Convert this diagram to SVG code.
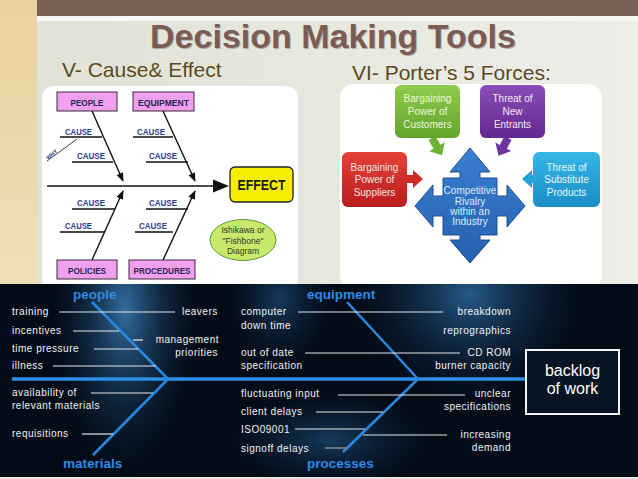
<svg xmlns="http://www.w3.org/2000/svg" width="638" height="479" viewBox="0 0 638 479">
<defs>
<linearGradient id="strip" x1="0" y1="0" x2="0" y2="1"><stop offset="0" stop-color="#e9d29e"/><stop offset="1" stop-color="#f3e6c8"/></linearGradient>
<linearGradient id="bg" x1="0" y1="0" x2="1" y2="0"><stop offset="0" stop-color="#dfe2d4"/><stop offset="1" stop-color="#eeeee9"/></linearGradient>
<linearGradient id="gGreen" x1="0" y1="0" x2="0" y2="1"><stop offset="0" stop-color="#90cc4c"/><stop offset="1" stop-color="#62a42c"/></linearGradient>
<linearGradient id="gPurple" x1="0" y1="0" x2="0" y2="1"><stop offset="0" stop-color="#8a4cb6"/><stop offset="1" stop-color="#64288e"/></linearGradient>
<linearGradient id="gRed" x1="0" y1="0" x2="0" y2="1"><stop offset="0" stop-color="#e6423a"/><stop offset="1" stop-color="#b81c1c"/></linearGradient>
<linearGradient id="gCyan" x1="0" y1="0" x2="0" y2="1"><stop offset="0" stop-color="#34b8e6"/><stop offset="1" stop-color="#1a8cc6"/></linearGradient>
<linearGradient id="gBlue" x1="0" y1="0" x2="0" y2="1"><stop offset="0" stop-color="#3a7fd0"/><stop offset="1" stop-color="#2660b0"/></linearGradient>
<radialGradient id="glow1"><stop offset="0" stop-color="#3b7fba" stop-opacity="0.85"/><stop offset="1" stop-color="#0a2540" stop-opacity="0"/></radialGradient>
<radialGradient id="glow2"><stop offset="0" stop-color="#2f6ea6" stop-opacity="0.8"/><stop offset="1" stop-color="#0a2540" stop-opacity="0"/></radialGradient>
<radialGradient id="glow3"><stop offset="0" stop-color="#1e4f7c" stop-opacity="0.7"/><stop offset="1" stop-color="#0a2540" stop-opacity="0"/></radialGradient>
<clipPath id="darkClip"><rect x="0" y="284" width="638" height="193"/></clipPath>
<marker id="ah" viewBox="0 0 10 8" refX="9" refY="4" markerWidth="9" markerHeight="8" markerUnits="userSpaceOnUse" orient="auto"><path d="M0,0 L10,4 L0,8 z" fill="#111"/></marker>
<style>
.pink{fill:#f0a0ee;stroke:#3a2a3a;stroke-width:1}
.pt{font-family:"Liberation Sans",Arial,sans-serif;font-weight:bold;font-size:9.5px;fill:#262650;text-anchor:middle}
.ct{font-family:"Liberation Sans",Arial,sans-serif;font-weight:bold;font-size:9.5px;fill:#2c3c8c}
.fl{stroke:#111;stroke-width:1.4}
.ptx{font-family:"Liberation Sans",Arial,sans-serif;font-size:10px;text-anchor:middle}
.wt{font-family:"Liberation Sans",Arial,sans-serif;font-size:10px;fill:#f2f2f2;letter-spacing:0.5px}
.we{font-family:"Liberation Sans",Arial,sans-serif;font-size:10px;fill:#f2f2f2;letter-spacing:0.5px;text-anchor:end}
.wl{stroke:#e6e6e6;stroke-width:1.2}
.bl{font-family:"Liberation Sans",Arial,sans-serif;font-weight:bold;font-size:13.5px;fill:#2f8ae4}
.bone{stroke:#2a88e0;stroke-width:2.5}
</style>
</defs>

<!-- background -->
<rect x="0" y="0" width="638" height="479" fill="url(#bg)"/>
<rect x="0" y="0" width="37" height="479" fill="url(#strip)"/>
<rect x="37" y="0" width="601" height="16" fill="#7a5f55"/>
<rect x="37" y="16" width="601" height="5" fill="#f7f7f3"/>

<!-- titles -->
<text x="334" y="49" font-family="Liberation Sans,Arial,sans-serif" font-weight="bold" font-size="34" fill="#4a3833" fill-opacity="0.35" text-anchor="middle">Decision Making Tools</text>
<text x="333" y="48" font-family="Liberation Sans,Arial,sans-serif" font-weight="bold" font-size="34" fill="#7b5c55" text-anchor="middle">Decision Making Tools</text>
<text x="62" y="77" font-family="Liberation Sans,Arial,sans-serif" font-size="21" fill="#5b4a22">V- Cause&amp; Effect</text>
<text x="352" y="80" font-family="Liberation Sans,Arial,sans-serif" font-size="21" fill="#5b4a22">VI- Porter’s 5 Forces:</text>

<!-- left: fishbone picture -->
<g id="fishbone-small">
<rect x="42" y="86" width="256" height="205" rx="12" fill="#ffffff"/>
<g id="people-box"><rect class="pink" x="57" y="92" width="60" height="19"/><text class="pt" x="87" y="105.5" textLength="33" lengthAdjust="spacingAndGlyphs">PEOPLE</text></g>
<g id="equipment-box"><rect class="pink" x="133" y="92" width="61" height="19"/><text class="pt" x="163.5" y="105.5" textLength="51" lengthAdjust="spacingAndGlyphs">EQUIPMENT</text></g>
<g id="policies-box"><rect class="pink" x="57" y="260" width="60" height="19"/><text class="pt" x="87" y="273.5" textLength="38" lengthAdjust="spacingAndGlyphs">POLICIES</text></g>
<g id="procedures-box"><rect class="pink" x="129" y="260" width="66" height="19"/><text class="pt" x="162" y="273.5" textLength="57" lengthAdjust="spacingAndGlyphs">PROCEDURES</text></g>
<g id="effect-box"><rect x="230" y="167" width="63" height="35" rx="5" fill="#f6ee00" stroke="#222" stroke-width="1.3"/><text x="261.5" y="190" font-family="Liberation Sans,Arial,sans-serif" font-weight="bold" font-size="14" fill="#1a1a1a" text-anchor="middle" textLength="48" lengthAdjust="spacingAndGlyphs">EFFECT</text></g>
<g id="ishikawa-note"><ellipse cx="243" cy="240" rx="33" ry="20.5" fill="#c8ea6a" stroke="#5a9a3a" stroke-width="1"/>
<text x="243" y="233" font-family="Liberation Sans,Arial,sans-serif" font-size="8.5" fill="#333" text-anchor="middle">Ishikawa or</text>
<text x="243" y="243.5" font-family="Liberation Sans,Arial,sans-serif" font-size="8.5" fill="#333" text-anchor="middle">"Fishbone"</text>
<text x="243" y="254" font-family="Liberation Sans,Arial,sans-serif" font-size="8.5" fill="#333" text-anchor="middle">Diagram</text></g>
<g id="small-connectors" fill="none">
<line class="fl" x1="47" y1="186" x2="215" y2="186" stroke-width="3"/>
<polygon points="213,179.5 229,186 213,192.5" fill="#111"/>
<line class="fl" x1="92" y1="111" x2="123" y2="181" marker-end="url(#ah)"/>
<line class="fl" x1="163" y1="111" x2="195" y2="181" marker-end="url(#ah)"/>
<line class="fl" x1="92" y1="260" x2="123" y2="191" marker-end="url(#ah)"/>
<line class="fl" x1="163" y1="260" x2="195" y2="191" marker-end="url(#ah)"/>
<line class="fl" x1="60" y1="137" x2="102" y2="137"/>
<line class="fl" x1="72" y1="162" x2="113" y2="162"/>
<line class="fl" x1="133" y1="137" x2="173" y2="137"/>
<line class="fl" x1="146" y1="162" x2="188" y2="162"/>
<line class="fl" x1="72" y1="209" x2="115" y2="209"/>
<line class="fl" x1="60" y1="232" x2="105" y2="232"/>
<line class="fl" x1="146" y1="209" x2="188" y2="209"/>
<line class="fl" x1="135" y1="232" x2="173" y2="232"/>
<line x1="77" y1="139" x2="47" y2="161" stroke="#444" stroke-width="1"/>
</g>
<text class="ct" x="65" y="135" textLength="27" lengthAdjust="spacingAndGlyphs">CAUSE</text>
<text class="ct" x="77" y="159" textLength="28" lengthAdjust="spacingAndGlyphs">CAUSE</text>
<text class="ct" x="137" y="135" textLength="28" lengthAdjust="spacingAndGlyphs">CAUSE</text>
<text class="ct" x="149" y="159" textLength="28" lengthAdjust="spacingAndGlyphs">CAUSE</text>
<text class="ct" x="77" y="206" textLength="28" lengthAdjust="spacingAndGlyphs">CAUSE</text>
<text class="ct" x="65" y="229" textLength="27" lengthAdjust="spacingAndGlyphs">CAUSE</text>
<text class="ct" x="149" y="206" textLength="28" lengthAdjust="spacingAndGlyphs">CAUSE</text>
<text class="ct" x="139" y="229" textLength="28" lengthAdjust="spacingAndGlyphs">CAUSE</text>
<text x="48" y="160" font-family="Liberation Sans,Arial,sans-serif" font-weight="bold" font-size="5.5" fill="#2c3c8c" transform="rotate(-40 48 160)">WHY</text>
</g>

<!-- right: Porter's 5 forces -->
<g id="porter">
<rect x="340" y="84" width="262" height="205" rx="14" fill="#ffffff"/>
<g id="porter-arrows">
<polygon points="0,-4 10,-4 10,-9 20,0 10,9 10,4 0,4" fill="#6fb234" transform="translate(432,138) rotate(60)"/>
<polygon points="0,-4 10,-4 10,-9 20,0 10,9 10,4 0,4" fill="#6e34a0" transform="translate(508,138) rotate(118)"/>
<polygon points="0,-4 10,-4 10,-9 20,0 10,9 10,4 0,4" fill="#d02a26" transform="translate(403,179)"/>
<polygon points="0,-4 10,-4 10,-9 20,0 10,9 10,4 0,4" fill="#22a2d8" transform="translate(542,179) rotate(180)"/>
</g>
<g id="customers"><rect x="395" y="85" width="65" height="53" rx="6" fill="url(#gGreen)"/>
<text class="ptx" fill="#eef8d8" x="427.5" y="102">Bargaining</text><text class="ptx" fill="#eef8d8" x="427.5" y="115">Power of</text><text class="ptx" fill="#eef8d8" x="427.5" y="128">Customers</text></g>
<g id="entrants"><rect x="480" y="85" width="65" height="53" rx="6" fill="url(#gPurple)"/>
<text class="ptx" fill="#f2eaf8" x="512.5" y="102">Threat of</text><text class="ptx" fill="#f2eaf8" x="512.5" y="115">New</text><text class="ptx" fill="#f2eaf8" x="512.5" y="128">Entrants</text></g>
<g id="suppliers"><rect x="342" y="152" width="65" height="55" rx="6" fill="url(#gRed)"/>
<text class="ptx" fill="#fbe6e0" x="374.5" y="171">Bargaining</text><text class="ptx" fill="#fbe6e0" x="374.5" y="183">Power of</text><text class="ptx" fill="#fbe6e0" x="374.5" y="196">Suppliers</text></g>
<g id="substitutes"><rect x="533" y="152" width="67" height="55" rx="6" fill="url(#gCyan)"/>
<text class="ptx" fill="#e8f8ff" x="566.5" y="171">Threat of</text><text class="ptx" fill="#e8f8ff" x="566.5" y="183">Substitute</text><text class="ptx" fill="#e8f8ff" x="566.5" y="196">Products</text></g>
<g id="rivalry">
<polygon points="470,148 490,172 480,172 480,178 497,178 497,196 507,196 507,185 525,206 507,227 507,216 497,216 497,235 480,235 480,240 490,240 470,263 450,240 460,240 460,235 443,235 443,216 433,216 433,227 415,206 433,185 433,196 443,196 443,178 460,178 460,172 450,172" fill="url(#gBlue)" stroke="#1d4f94" stroke-width="1"/>
<text class="ptx" fill="#dde9ff" font-size="9.5" x="470" y="193.5">Competitive</text>
<text class="ptx" fill="#dde9ff" font-size="9.5" x="470" y="205">Rivalry</text>
<text class="ptx" fill="#dde9ff" font-size="9.5" x="470" y="215">within an</text>
<text class="ptx" fill="#dde9ff" font-size="9.5" x="470" y="225">Industry</text>
</g>
</g>

<!-- bottom: dark fishbone -->
<g id="dark-panel">
<rect x="0" y="284" width="638" height="193" fill="#030b16"/>
<g clip-path="url(#darkClip)">
<ellipse cx="125" cy="310" rx="75" ry="170" fill="url(#glow1)"/>
<ellipse cx="470" cy="295" rx="120" ry="110" fill="url(#glow2)"/>
<ellipse cx="280" cy="300" rx="55" ry="70" fill="url(#glow3)"/>
<ellipse cx="330" cy="440" rx="110" ry="50" fill="url(#glow3)"/>
</g>
<rect x="0" y="477" width="638" height="2" fill="#e6e6e0"/>
</g>

<g id="connectors" fill="none">
<line x1="12" y1="379" x2="526" y2="379" stroke="#2e8fe6" stroke-width="3.5"/>
<line class="bone" x1="92" y1="302" x2="168" y2="379"/>
<line class="bone" x1="168" y1="379" x2="93" y2="455"/>
<line class="bone" x1="347" y1="302" x2="418" y2="379"/>
<line class="bone" x1="418" y1="379" x2="343" y2="452"/>
<line class="wl" x1="59" y1="312" x2="175" y2="312"/>
<line class="wl" x1="73" y1="331" x2="119" y2="331"/>
<line class="wl" x1="133" y1="340" x2="143" y2="340"/>
<line class="wl" x1="94" y1="349" x2="138" y2="349"/>
<line class="wl" x1="53" y1="366" x2="156" y2="366"/>
<line class="wl" x1="91" y1="393" x2="153" y2="393"/>
<line class="wl" x1="82" y1="434" x2="113" y2="434"/>
<line class="wl" x1="298" y1="312" x2="443" y2="312"/>
<line class="wl" x1="305" y1="353" x2="460" y2="353"/>
<line class="wl" x1="338" y1="395" x2="465" y2="395"/>
<line class="wl" x1="316" y1="412" x2="383" y2="412"/>
<line class="wl" x1="295" y1="429" x2="365" y2="429"/>
<line class="wl" x1="363" y1="435" x2="447" y2="435"/>
<line x1="325" y1="448" x2="347" y2="448" stroke="#8a8a8a" stroke-width="1.5"/>
</g>

<g id="category-labels">
<text class="bl" x="73" y="299">people</text>
<text class="bl" x="63" y="468">materials</text>
<text class="bl" x="307" y="299">equipment</text>
<text class="bl" x="307" y="468">processes</text>
</g>

<g id="cause-labels">
<text class="wt" x="12" y="315">training</text>
<text class="wt" x="12" y="334">incentives</text>
<text class="wt" x="12" y="352">time pressure</text>
<text class="wt" x="12" y="369">illness</text>
<text class="wt" x="12" y="396">availability of</text>
<text class="wt" x="12" y="409">relevant materials</text>
<text class="wt" x="12" y="437">requisitions</text>
<text class="wt" x="182" y="315">leavers</text>
<text class="we" x="219" y="343">management</text>
<text class="we" x="218" y="356">priorities</text>
<text class="wt" x="241" y="315">computer</text>
<text class="wt" x="241" y="329">down time</text>
<text class="wt" x="241" y="356">out of date</text>
<text class="wt" x="241" y="369">specification</text>
<text class="wt" x="241" y="397">fluctuating input</text>
<text class="wt" x="241" y="415">client delays</text>
<text class="wt" x="241" y="433">ISO09001</text>
<text class="wt" x="241" y="452">signoff delays</text>
<text class="we" x="511" y="315">breakdown</text>
<text class="we" x="511" y="334">reprographics</text>
<text class="we" x="511" y="356">CD ROM</text>
<text class="we" x="511" y="369">burner capacity</text>
<text class="we" x="511" y="397">unclear</text>
<text class="we" x="511" y="410">specifications</text>
<text class="we" x="511" y="438">increasing</text>
<text class="we" x="511" y="451">demand</text>
</g>

<g id="backlog">
<rect x="526" y="350" width="93" height="64" fill="#061424" stroke="#f4f4f4" stroke-width="2"/>
<text x="572.5" y="376" font-family="Liberation Sans,Arial,sans-serif" font-size="16" fill="#ffffff" text-anchor="middle">backlog</text>
<text x="572.5" y="394" font-family="Liberation Sans,Arial,sans-serif" font-size="16" fill="#ffffff" text-anchor="middle">of work</text>
</g>
</svg>
